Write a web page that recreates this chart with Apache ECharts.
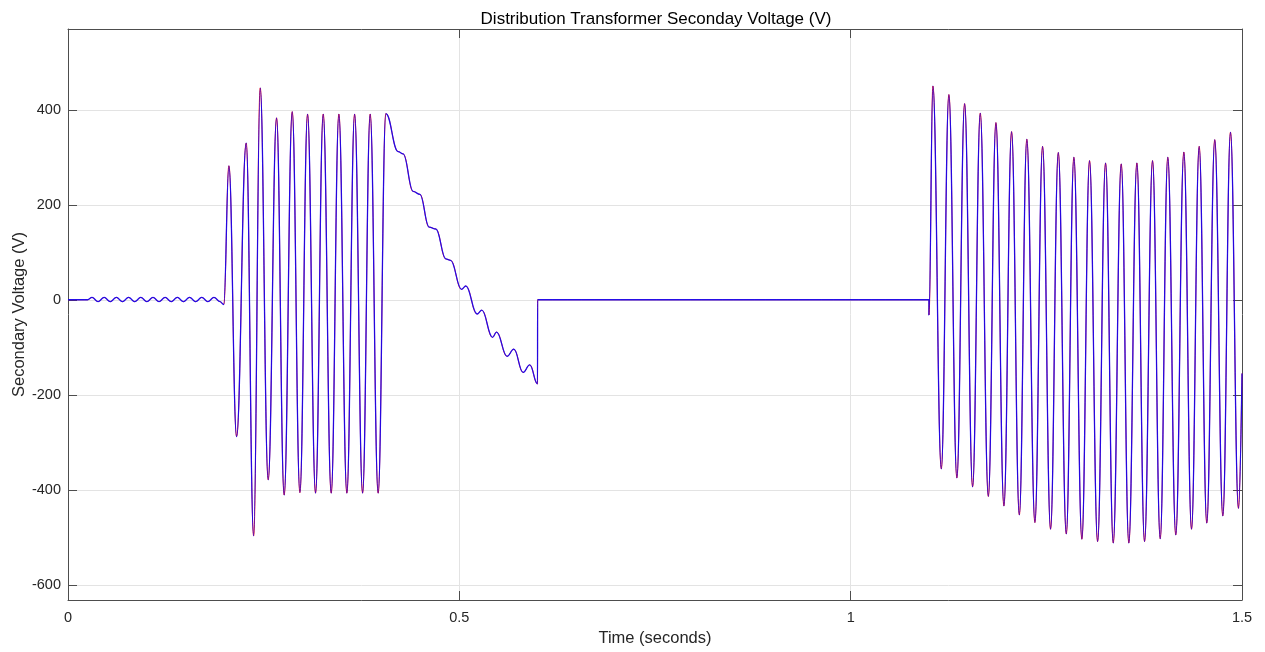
<!DOCTYPE html>
<html>
<head>
<meta charset="utf-8">
<script src="https://cdn.jsdelivr.net/npm/echarts@6/dist/echarts.min.js"></script>
<style>
  html, body { margin: 0; padding: 0; background: #ffffff; }
  #chart { width: 1265px; height: 652px; }
</style>
</head>
<body>
<div id="chart"></div>
<script>
// ---- Data (time in seconds, voltage in V) ----
// Pre-fault small ripple
const tRipple = [0, 0.025, 0.0307, 0.0384, 0.0462, 0.0540, 0.0618, 0.0696, 0.0774, 0.0852, 0.0930, 0.1008, 0.1086, 0.1163, 0.1241, 0.1319, 0.1397, 0.1475, 0.1553, 0.1631, 0.1709, 0.1787, 0.1865, 0.1943, 0.1990];
const vRipple = [0, 0, 5, -4, 5, -4, 5, -4, 5, -4, 5, -4, 5, -4, 5, -4, 5, -4, 5, -4, 5, -4, 5, -4, -10];
// First energised interval (peaks and troughs)
const tBurst1 = [0.2056, 0.2154, 0.2277, 0.2372, 0.2456, 0.2558, 0.2665, 0.2762, 0.2865, 0.2963, 0.3061, 0.3163, 0.3261, 0.3363, 0.3461, 0.3563, 0.3662, 0.3764, 0.3861, 0.3963, 0.4061];
const vBurst1 = [282, -288, 330, -497, 446, -379, 383, -411, 396, -406, 391, -407, 391, -407, 391, -407, 391, -407, 391, -407, 392];
// Decaying wavy section
const tDecay = [0.4218, 0.4282, 0.4410, 0.4496, 0.4614, 0.4700, 0.4828, 0.4888, 0.5028, 0.5083, 0.5227, 0.5287, 0.5424, 0.5475, 0.5610, 0.5696, 0.5815, 0.5900, 0.5999];
const vDecay = [312, 307, 228, 222, 153, 149, 86, 83, 22, 29, -30, -22, -79, -68, -119, -104, -153, -137, -177];
// Open interval
const tOpen = [0.6, 1.1];
const vOpen = [0, 0];
// Second energised interval
const tBurst2 = [1.1, 1.1051, 1.1158, 1.1255, 1.1357, 1.1456, 1.1558, 1.1656, 1.1759, 1.1856, 1.1958, 1.2056, 1.2155, 1.2251, 1.2354, 1.2452, 1.2554, 1.2653, 1.2755, 1.2852, 1.2954, 1.3052, 1.3155, 1.3257, 1.3355, 1.3457, 1.3554, 1.3657, 1.3755, 1.3857, 1.3955, 1.4052, 1.4154, 1.4257, 1.4355, 1.4453, 1.4550, 1.4652, 1.4755, 1.4853, 1.4955, 1.5];
const vBurst2 = [-32, 450, -356, 432, -375, 413, -394, 393, -414, 373, -434, 354, -453, 338, -469, 323, -483, 310, -493, 300, -504, 293, -509, 288, -512, 286, -512, 288, -509, 293, -503, 300, -495, 311, -483, 323, -470, 337, -455, 353, -439, -155];

const xTicks = [0, 0.5, 1, 1.5];
const yTicks = [-600, -400, -200, 0, 200, 400];

function pairs(ts, vs) { return ts.map((t, i) => [t, vs[i]]); }
const data = [].concat(
  pairs(tRipple, vRipple),
  pairs(tBurst1, vBurst1),
  pairs(tDecay, vDecay),
  pairs(tOpen, vOpen),
  pairs(tBurst2, vBurst2)
);

const FONT = '"Liberation Sans", Arial, Helvetica, sans-serif';
const AX = '#4d4d4d';
const TXT = '#262626';

const chart = echarts.init(document.getElementById('chart'), null, { renderer: 'canvas' });
const option = {
  animation: false,
  backgroundColor: '#ffffff',
  title: {
    text: 'Distribution Transformer Seconday Voltage (V)',
    left: 651, top: 6, textAlign: 'center',
    textStyle: { fontFamily: FONT, fontSize: 17, fontWeight: 'normal', color: '#000000' }
  },
  grid: { left: 68, right: 23, top: 29, bottom: 52, containLabel: false, outerBoundsMode: 'none' },
  xAxis: [
    {
      type: 'value', min: 0, max: 1.5, interval: 0.5, position: 'bottom',
      name: 'Time (seconds)', nameLocation: 'middle', nameGap: 28,
      nameTextStyle: { fontFamily: FONT, fontSize: 16.5, color: TXT },
      axisLine: { show: true, onZero: false, lineStyle: { color: AX, width: 1 } },
      axisTick: { show: true, inside: true, length: 9, lineStyle: { color: AX } },
      axisLabel: { fontFamily: FONT, fontSize: 14.5, color: TXT, margin: 10,
        formatter: v => (xTicks.includes(v) ? String(v) : '') },
      splitLine: { show: true, lineStyle: { color: '#e3e3e3', width: 1 } }
    },
    {
      type: 'value', min: 0, max: 1.5, interval: 0.5, position: 'top',
      axisLine: { show: true, onZero: false, lineStyle: { color: AX, width: 1 } },
      axisTick: { show: true, inside: true, length: 9, lineStyle: { color: AX } },
      axisLabel: { show: false }, splitLine: { show: false }
    }
  ],
  yAxis: [
    {
      type: 'value', min: -632, max: 570, minInterval: 200, maxInterval: 200, splitNumber: 6,
      position: 'left',
      name: 'Secondary Voltage (V)', nameLocation: 'middle', nameGap: 40, nameMoveOverlap: false,
      nameTextStyle: { fontFamily: FONT, fontSize: 16.5, color: TXT },
      axisLine: { show: true, onZero: false, lineStyle: { color: AX, width: 1 } },
      axisTick: { show: true, inside: true, length: 9, lineStyle: { color: AX } },
      axisLabel: { fontFamily: FONT, fontSize: 14.5, color: TXT, margin: 7,
        formatter: v => (yTicks.includes(v) ? String(v) : '') },
      splitLine: { show: true, lineStyle: { color: '#e3e3e3', width: 1 } }
    },
    {
      type: 'value', min: -632, max: 570, minInterval: 200, maxInterval: 200, splitNumber: 6,
      position: 'right',
      axisLine: { show: true, onZero: false, lineStyle: { color: AX, width: 1 } },
      axisTick: { show: true, inside: true, length: 9, lineStyle: { color: AX } },
      axisLabel: { show: false }, splitLine: { show: false }
    }
  ],
  series: [
    {
      name: 'ref', type: 'line', data: data, xAxisIndex: 0, yAxisIndex: 0,
      showSymbol: false, symbol: 'none', smooth: 0.42, smoothMonotone: 'x',
      lineStyle: { color: '#ff0000', width: 0.9 }, z: 2
    },
    {
      name: 'Vsec', type: 'line', data: data, xAxisIndex: 0, yAxisIndex: 0,
      showSymbol: false, symbol: 'none', smooth: 0.42, smoothMonotone: 'x',
      lineStyle: { color: '#0000ff', width: 1.3, opacity: 0.85 }, z: 3
    }
  ]
};
chart.setOption(option);
</script>
</body>
</html>
